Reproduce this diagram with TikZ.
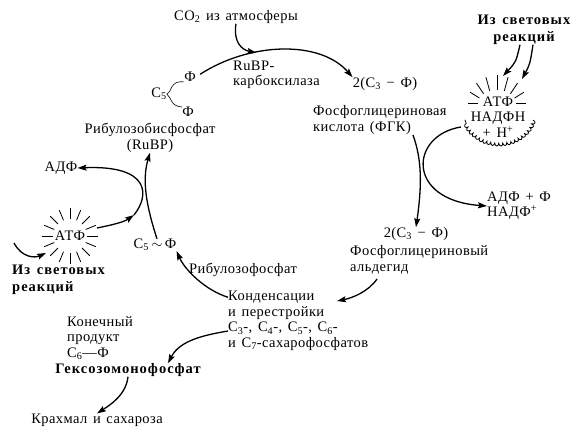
\documentclass[tikz,border=0pt]{standalone}
\usepackage{fontspec}
\setmainfont{Liberation Serif}[LetterSpace=3, WordSpace=1.4]
\usetikzlibrary{arrows.meta, decorations.pathmorphing}
\tikzset{
  lbl/.style   = {font=\fontsize{14.5}{15.5}\selectfont, align=left, inner sep=0pt},
  blbl/.style  = {lbl, font=\fontsize{14.5}{16.5}\selectfont\bfseries\addfontfeature{LetterSpace=7}},
  flow/.style  = {-{Stealth[length=9pt, width=6pt, inset=1.5pt]}, line width=1.3pt},
  wave/.style  = {line width=0.6pt},
  ray/.style   = {line width=0.8pt},
}

\begin{document}
\begin{tikzpicture}[x=1pt, y=-1pt]
\useasboundingbox (0,0) rectangle (573,436);

% top of the cycle
\node[lbl] (co2) at (236,17) {CO\textsubscript{2} из атмосферы};
\node[lbl, anchor=west] (rubisco) at (233,75) {RuBP-\\карбоксилаза};
\node[lbl] (pga) at (385,84) {2(C\textsubscript{3} − Ф)};
\node[lbl, anchor=west] (pganame) at (313,120) {Фосфоглицериновая\\кислота (ФГК)};
\node[lbl] (c5) at (159,94) {C\textsubscript{5}};
\node[lbl] (phi1) at (190,77) {Ф};
\node[lbl] (phi2) at (188,112) {Ф};
\node[lbl, align=center] (rubpname) at (150,138) {Рибулозобисфосфат\\(RuBP)};

% light reactions, right
\node[blbl, align=center] (light1) at (524,30) {Из световых\\реакций};
\node[lbl, align=center] (nadph) at (498,117) {АТФ\\НАДФН\\+ H\textsuperscript{+}};
\node[lbl, anchor=west] (adpnadp) at (487,206) {АДФ + Ф\\НАДФ\textsuperscript{+}};
\node[lbl] (gap) at (416,234) {2(C\textsubscript{3} − Ф)};
\node[lbl, anchor=west] (gapname) at (350,260) {Фосфоглицериновый\\альдегид};

% bottom and left
\node[lbl, anchor=west] (cond) at (228,321) {Конденсации\\и перестройки\\C\textsubscript{3}-, C\textsubscript{4}-, C\textsubscript{5}-, C\textsubscript{6}-\\и C\textsubscript{7}-сахарофосфатов};
\node[lbl] (ru5p) at (243,270) {Рибулозофосфат};
\node[lbl] (c5p) at (155,245) {C\textsubscript{5}$\,\sim\,$Ф};
\node[lbl] (atp) at (70,236) {АТФ};
\node[lbl] (adp) at (61,168) {АДФ};
\node[blbl, anchor=west] (light2) at (12,280) {Из световых\\реакций};
\node[lbl, anchor=west] (product) at (67,338) {Конечный\\продукт\\C\textsubscript{6}—Ф};
\node[blbl] (hexose) at (128,370) {Гексозомонофосфат};
\node[lbl] (starch) at (97,420) {Крахмал и сахароза};

% free ends
\coordinate (in1) at (503,76);
\coordinate (in2) at (522,79);
\coordinate (cloudout) at (461,127);
\coordinate (pgaout) at (413,135);
\coordinate (gapout) at (377,279);
\coordinate (condin) at (337,301);
\coordinate (atpout) at (97,228);
\coordinate (atpmid) at (134,215);
\coordinate (lsrc) at (14,243);
\coordinate (atpin) at (46,253);

% bursts and cloud
\foreach \a in {0,22.5,...,337.5}
  \draw[ray] ({70+17*cos(\a)},{236-17*sin(\a)}) -- ({70+28*cos(\a)},{236-28*sin(\a)});
\foreach \a in {0,22.5,...,180}
  \draw[ray] ({497+19*cos(\a)},{103-13*sin(\a)}) -- ({497+29*cos(\a)},{103-28*sin(\a)});
\draw[ray, decorate, decoration={bumps, segment length=8pt, amplitude=3pt}]
  plot[domain=345:195, samples=40] ({499+35*cos(\x)},{112-31*sin(\x)});

% cycle
\draw[flow, shorten <=5pt] (phi1.east) .. controls (250,42) and (320,40) .. (pga.north west)
  coordinate[pos=0.35] (co2in);
\draw[flow] (co2.south) .. controls (233,42) and (242,50) .. (co2in);
\draw[wave] (c5.east) .. controls (172,92) and (170,80) .. (phi1.south west);
\draw[wave] (c5.east) .. controls (172,98) and (170,106) .. (phi2.north west);
\draw[flow] (pgaout) .. controls (422,160) and (422,185) .. (gap.north);
\draw[flow] (cloudout) .. controls (410,135) and (405,200) .. (adpnadp.west);
\draw[flow] ([xshift=-4pt]light1.south) .. controls (516,62) .. (in1);
\draw[flow] ([xshift=9pt]light1.south) .. controls (530,64) .. (in2);
\draw[flow] (gapout) .. controls (368,292) and (352,298) .. (condin);
\draw[flow] ([yshift=-6pt]cond.north west) .. controls (205,290) and (185,270) .. (c5p.south east);
\draw[flow] ([xshift=2pt]c5p.north) .. controls (146,205) and (142,180) .. (rubpname.south);
\draw[flow] (atpout) .. controls (112,225) and (124,222) .. (atpmid);
\draw[flow] (atpmid) .. controls (150,195) and (150,165) .. (adp.east);
\draw[flow] (lsrc) .. controls (22,258) and (35,258) .. (atpin);
\draw[flow] ([yshift=-10pt]cond.west) .. controls (205,335) and (180,340) .. ([xshift=40pt]hexose.north);
\draw[flow] (hexose.south) .. controls (126,395) and (110,405) .. (starch.north);
\end{tikzpicture}
\end{document}
